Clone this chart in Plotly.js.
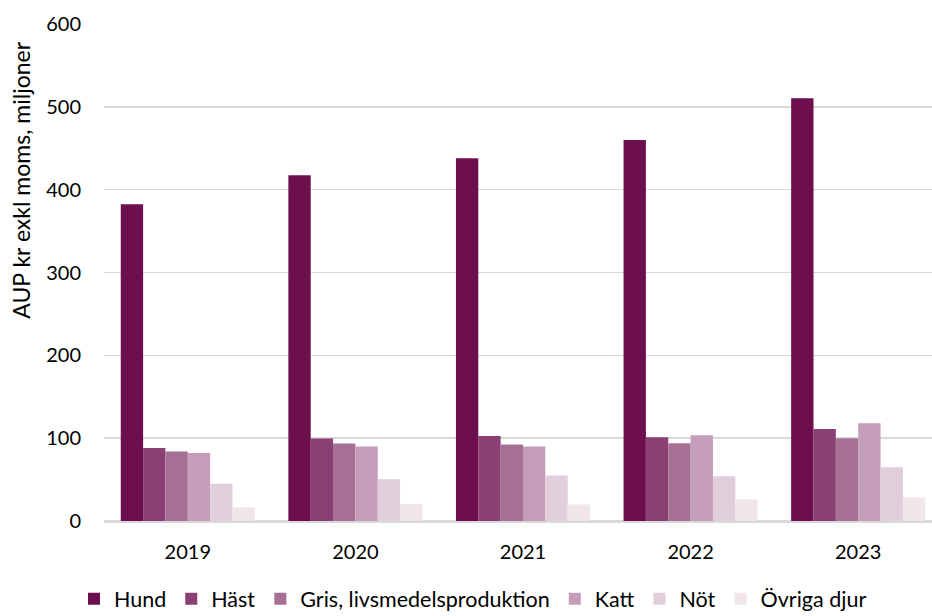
<!DOCTYPE html>
<html>
<head>
<meta charset="utf-8">
<script src="https://cdn.plot.ly/plotly-3.0.1.min.js"></script>
<style>
html,body{margin:0;padding:0;overflow:hidden;background:#fff;}
#chart{width:946px;height:616px;}
</style>
</head>
<body>
<div id="chart"></div>
<script>
const years = ["2019", "2020", "2021", "2022", "2023"];
const seriesNames = ["Hund", "Häst", "Gris, livsmedelsproduktion", "Katt", "Nöt", "Övriga djur"];
const hund = [382.5, 417.5, 438, 460, 510.5];
const hast = [88, 99.5, 102.5, 101, 111];
const gris = [84, 93.5, 92.5, 94, 100];
const katt = [82, 90, 90, 103.5, 118];
const not = [45, 50.5, 55, 54, 65];
const ovriga = [16.5, 20.5, 20, 26, 28.5];
const yTitle = "AUP kr exkl moms, miljoner";

const colors = ["#6D0F4F", "#8B4073", "#A67094", "#C49DB8", "#E0CEDA", "#EFE5EB"];
const values = [hund, hast, gris, katt, not, ovriga];
const font = "Lato, 'Open Sans', sans-serif";

const traces = values.map((v, i) => ({
  type: "bar",
  name: seriesNames[i],
  x: years,
  y: v,
  marker: {color: colors[i], line: {width: 0}},
  hoverinfo: "x+y+name"
}));

const layout = {
  width: 946,
  height: 616,
  margin: {l: 104, r: 4, t: 24, b: 95},
  paper_bgcolor: "#fff",
  plot_bgcolor: "#fff",
  barmode: "group",
  bargap: 0.2,
  bargroupgap: 0,
  font: {family: font, size: 20, color: "#000"},
  xaxis: {
    type: "category",
    showgrid: false,
    showline: true,
    linecolor: "#D9D9D9",
    linewidth: 1.5,
    ticks: "",
    ticklabelstandoff: 12,
    tickfont: {family: font, size: 20, color: "#000"}
  },
  yaxis: {
    range: [0, 600],
    dtick: 100,
    tick0: 0,
    showgrid: true,
    gridcolor: "#D9D9D9",
    gridwidth: 1.5,
    zeroline: true,
    zerolinecolor: "#D9D9D9",
    zerolinewidth: 1.5,
    showline: false,
    ticks: "",
    ticklabelstandoff: 22,
    tickfont: {family: font, size: 20, color: "#000"}
  },
  legend: {
    orientation: "h",
    xref: "container",
    yref: "container",
    x: 0.5,
    xanchor: "center",
    y: 0.028,
    yanchor: "middle",
    font: {family: font, size: 21.5, color: "#000"},
    itemwidth: 30,
    traceorder: "normal"
  },
  annotations: [{
    text: yTitle,
    xref: "paper",
    yref: "paper",
    x: -0.1,
    y: 0.685,
    xanchor: "center",
    yanchor: "middle",
    textangle: -90,
    showarrow: false,
    font: {family: font, size: 23, color: "#000"}
  }]
};

Plotly.newPlot("chart", traces, layout, {displayModeBar: false, staticPlot: true});
</script>
</body>
</html>
